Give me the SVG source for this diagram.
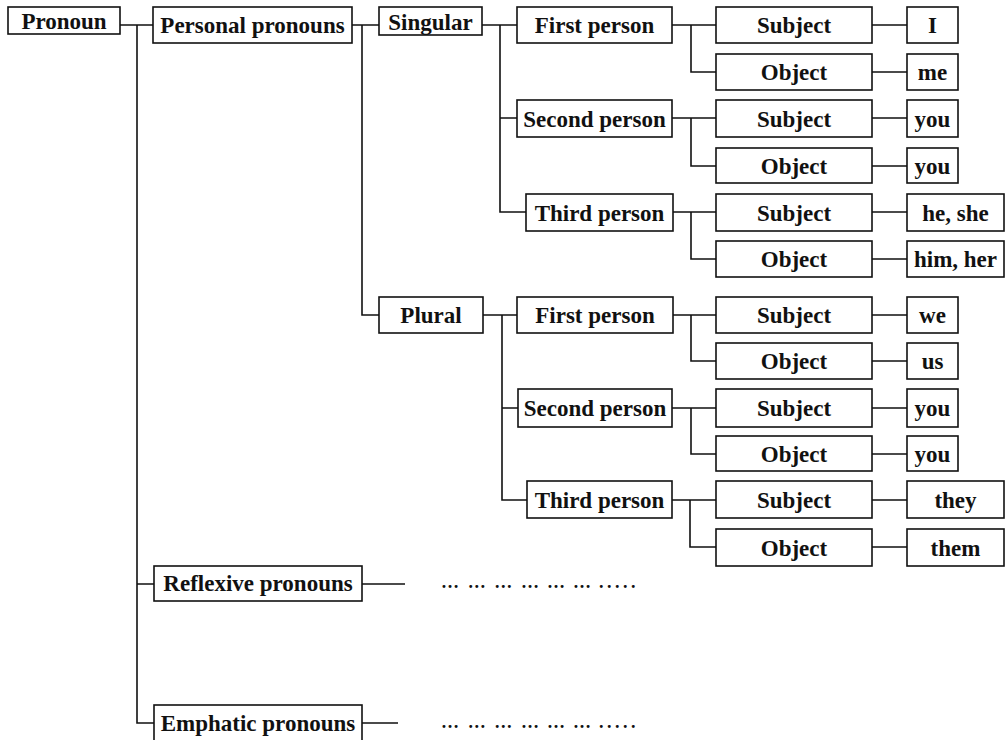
<svg xmlns="http://www.w3.org/2000/svg" width="1006" height="740" viewBox="0 0 1006 740">
<style>
rect{fill:#fff;stroke:#111;stroke-width:1.6}
text{font-family:"Liberation Serif","Times New Roman",serif;font-weight:bold;font-size:23px;fill:#111;text-anchor:middle}
#connectors path{fill:none;stroke:#111;stroke-width:1.6}
text.dots{font-size:18px;text-anchor:start}
</style>
<rect x="0" y="0" width="1006" height="740" style="fill:#fff;stroke:none"/>
<g id="connectors">
<path d="M120,25H153M137,25V723H154M137,584H154"/>
<path d="M352,25H379M362,25V315H379"/>
<path d="M482,25H517M500,25V212H526M500,118H517"/>
<path d="M483,315H517M502,315V500H527M502,408H518"/>
<path d="M672,25H716M691,25V72H716"/>
<path d="M672,118H716M691,118V166H716"/>
<path d="M673,212H716M691,212V259H716"/>
<path d="M673,315H716M691,315V361H716"/>
<path d="M672,408H716M691,408V454H716"/>
<path d="M672,500H716M690,500V547H716"/>
<path d="M872,25H907M872,72H907M872,118H907M872,166H907M872,212H907M872,259H907M872,315H907M872,361H907M872,408H907M872,454H907M872,500H907M872,547H907"/>
<path d="M362,584H405M362,723H398"/>
</g>
<g id="pronoun"><rect x="8" y="7" width="112" height="27"/><text x="64" y="28.5">Pronoun</text></g>
<g id="personal"><rect x="153" y="7" width="199" height="36"/><text x="252.5" y="33">Personal pronouns</text></g>
<g id="reflexive"><rect x="154" y="566" width="208" height="35"/><text x="258" y="591">Reflexive pronouns</text></g>
<g id="emphatic"><rect x="154" y="705" width="208" height="38"/><text x="258" y="731">Emphatic pronouns</text></g>
<g id="singular"><rect x="379" y="7" width="103" height="28"/><text x="430.5" y="29.5">Singular</text></g>
<g id="plural"><rect x="379" y="297" width="104" height="36"/><text x="431" y="323">Plural</text></g>
<g id="s-first"><rect x="517" y="7" width="155" height="36"/><text x="594.5" y="33">First person</text></g>
<g id="s-second"><rect x="517" y="100" width="155" height="37"/><text x="594.5" y="126.5">Second person</text></g>
<g id="s-third"><rect x="526" y="194" width="147" height="37"/><text x="599.5" y="220.5">Third person</text></g>
<g id="p-first"><rect x="517" y="297" width="156" height="36"/><text x="595" y="323">First person</text></g>
<g id="p-second"><rect x="518" y="389" width="154" height="38"/><text x="595" y="416">Second person</text></g>
<g id="p-third"><rect x="527" y="481" width="145" height="37"/><text x="599.5" y="507.5">Third person</text></g>
<g id="s1-subj"><rect x="716" y="7" width="156" height="36"/><text x="794" y="33">Subject</text></g>
<g id="s1-obj"><rect x="716" y="54" width="156" height="36"/><text x="794" y="80">Object</text></g>
<g id="s2-subj"><rect x="716" y="100" width="156" height="37"/><text x="794" y="126.5">Subject</text></g>
<g id="s2-obj"><rect x="716" y="148" width="156" height="35"/><text x="794" y="173.5">Object</text></g>
<g id="s3-subj"><rect x="716" y="194" width="156" height="37"/><text x="794" y="220.5">Subject</text></g>
<g id="s3-obj"><rect x="716" y="241" width="156" height="36"/><text x="794" y="267">Object</text></g>
<g id="p1-subj"><rect x="716" y="297" width="156" height="36"/><text x="794" y="323">Subject</text></g>
<g id="p1-obj"><rect x="716" y="343" width="156" height="36"/><text x="794" y="369">Object</text></g>
<g id="p2-subj"><rect x="716" y="389" width="156" height="38"/><text x="794" y="416">Subject</text></g>
<g id="p2-obj"><rect x="716" y="436" width="156" height="35"/><text x="794" y="461.5">Object</text></g>
<g id="p3-subj"><rect x="716" y="481" width="156" height="37"/><text x="794" y="507.5">Subject</text></g>
<g id="p3-obj"><rect x="716" y="529" width="156" height="37"/><text x="794" y="555.5">Object</text></g>
<g id="w-I"><rect x="907" y="7" width="51" height="36"/><text x="932.5" y="33">I</text></g>
<g id="w-me"><rect x="907" y="54" width="51" height="36"/><text x="932.5" y="80">me</text></g>
<g id="w-you1"><rect x="907" y="100" width="51" height="37"/><text x="932.5" y="126.5">you</text></g>
<g id="w-you2"><rect x="907" y="148" width="51" height="35"/><text x="932.5" y="173.5">you</text></g>
<g id="w-heshe"><rect x="907" y="194" width="97" height="37"/><text x="955.5" y="220.5">he, she</text></g>
<g id="w-himher"><rect x="907" y="241" width="97" height="36"/><text x="955.5" y="267">him, her</text></g>
<g id="w-we"><rect x="907" y="297" width="51" height="36"/><text x="932.5" y="323">we</text></g>
<g id="w-us"><rect x="907" y="343" width="51" height="36"/><text x="932.5" y="369">us</text></g>
<g id="w-you3"><rect x="907" y="389" width="51" height="38"/><text x="932.5" y="416">you</text></g>
<g id="w-you4"><rect x="907" y="436" width="51" height="35"/><text x="932.5" y="461.5">you</text></g>
<g id="w-they"><rect x="907" y="481" width="97" height="37"/><text x="955.5" y="507.5">they</text></g>
<g id="w-them"><rect x="907" y="529" width="97" height="37"/><text x="955.5" y="555.5">them</text></g>
<g id="dots-reflexive"><text class="dots" x="441 467.7 494.3 521 547 573 599 607 615 623 631" y="588">……………….....</text></g>
<g id="dots-emphatic"><text class="dots" x="441 467.7 494.3 521 547 573 599 607 615 623 631" y="728">……………….....</text></g>
</svg>
